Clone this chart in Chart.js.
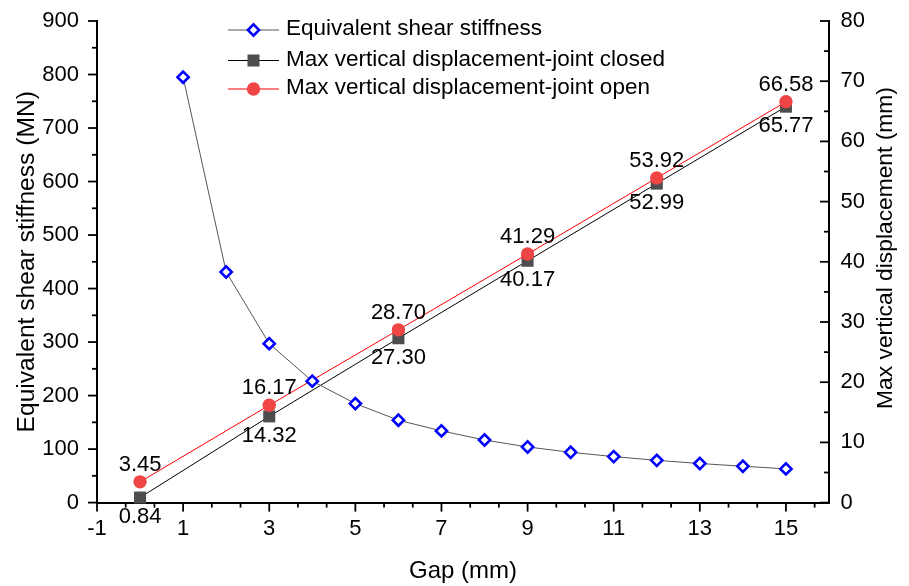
<!DOCTYPE html>
<html><head><meta charset="utf-8">
<script src="https://cdn.jsdelivr.net/npm/chart.js@4.4.1/dist/chart.umd.min.js"></script>
<style>html,body{margin:0;padding:0;background:#fff;}#wrap{width:909px;height:586px;}</style>
</head><body><div id="wrap"><canvas id="c" width="909" height="586"></canvas></div>
<script>
// ---- data ----
const gaps = [1,2,3,4,5,6,7,8,9,10,11,12,13,14,15];
const stiffness = [795,431,297,227,185,154,134,117,104,94,86,79,73,68,63];
const dispGaps = [0,3,6,9,12,15];
const dispClosed = [0.84,14.32,27.30,40.17,52.99,65.77];
const dispOpen = [3.45,16.17,28.70,41.29,53.92,66.58];
const xTicks = [-1,1,3,5,7,9,11,13,15];
const yLeftTicks = [0,100,200,300,400,500,600,700,800,900];
const yRightTicks = [0,10,20,30,40,50,60,70,80];
const seriesNames = ['Equivalent shear stiffness','Max vertical displacement-joint closed','Max vertical displacement-joint open'];
const xTitle = 'Gap (mm)';
const yLeftTitle = 'Equivalent shear stiffness (MN)';
const yRightTitle = 'Max vertical displacement (mm)';

const FONT = "'Liberation Sans', Arial, sans-serif";
const BLUE = '#0000ff', RED = '#ef4545', GRAY = '#4d4d4d';

function drawMarker(ctx, kind, x, y) {
  ctx.save();
  if (kind === 'diamond') {
    const r = 5.6;
    ctx.beginPath();
    ctx.moveTo(x, y - r); ctx.lineTo(x + r, y); ctx.lineTo(x, y + r); ctx.lineTo(x - r, y); ctx.closePath();
    ctx.fillStyle = '#fff'; ctx.fill();
    ctx.lineWidth = 2.6; ctx.strokeStyle = BLUE; ctx.stroke();
  } else if (kind === 'square') {
    ctx.fillStyle = GRAY; ctx.fillRect(x - 6, y - 6, 12, 12);
  } else {
    ctx.beginPath(); ctx.arc(x, y, 6.7, 0, Math.PI * 2); ctx.fillStyle = RED; ctx.fill();
  }
  ctx.restore();
}

const decorPlugin = {
  id: 'decor',
  afterDraw(chart) {
    const ctx = chart.ctx;
    const xs = chart.scales.x, yl = chart.scales.y, yr = chart.scales.y2;
    const ca = chart.chartArea;
    ctx.save();
    ctx.strokeStyle = '#000'; ctx.lineWidth = 1.8;
    const line = (x1, y1, x2, y2) => { ctx.beginPath(); ctx.moveTo(x1, y1); ctx.lineTo(x2, y2); ctx.stroke(); };
    // x ticks
    const b = ca.bottom;
    xTicks.forEach((v, i) => {
      const px = xs.getPixelForValue(v);
      line(px, b, px, b + 9);
      [2/3, 4/3].forEach(o => { const m = v + o; if (m < xs.max) { const p = xs.getPixelForValue(m); line(p, b, p, b + 5); } });
    });
    // left y ticks (outward)
    yLeftTicks.forEach(v => {
      const py = yl.getPixelForValue(v);
      line(ca.left, py, ca.left - 9, py);
      const m = v + 50; if (m < yl.max) { const p = yl.getPixelForValue(m); line(ca.left, p, ca.left - 5, p); }
    });
    // right y ticks (inward)
    yRightTicks.forEach(v => {
      const py = yr.getPixelForValue(v);
      line(ca.right, py, ca.right - 9, py);
      const m = v + 5; if (m < yr.max) { const p = yr.getPixelForValue(m); line(ca.right, p, ca.right - 5, p); }
    });
    // data labels
    ctx.fillStyle = '#000';
    ctx.font = '22px ' + FONT;
    ctx.textAlign = 'center'; ctx.textBaseline = 'middle';
    const openMeta = chart.getDatasetMeta(1), closedMeta = chart.getDatasetMeta(2);
    openMeta.data.forEach((el, i) => ctx.fillText(dispOpen[i].toFixed(2), el.x, el.y - 17));
    closedMeta.data.forEach((el, i) => ctx.fillText(dispClosed[i].toFixed(2), el.x, el.y + 19.5));
    // right axis title
    ctx.save();
    ctx.font = '22.8px ' + FONT;
    ctx.translate(886, 248);
    ctx.rotate(-Math.PI / 2);
    ctx.fillText(yRightTitle, 0, 0);
    ctx.restore();
    // legend
    const rows = [
      { y: 30, color: '#555', kind: 'diamond', text: seriesNames[0] },
      { y: 60.5, color: '#000', kind: 'square', text: seriesNames[1] },
      { y: 89, color: '#ff0000', kind: 'circle', text: seriesNames[2] }
    ];
    rows.forEach(r => {
      ctx.strokeStyle = r.color; ctx.lineWidth = 1;
      line(228, r.y, 279, r.y);
      drawMarker(ctx, r.kind, 253.5, r.y);
      ctx.fillStyle = '#000'; ctx.font = '22.5px ' + FONT;
      ctx.textAlign = 'left'; ctx.textBaseline = 'middle';
      ctx.fillText(r.text, 286, r.y - 1);
    });
    ctx.restore();
  }
};

function zeroPad(s) { s.paddingTop = 0; s.paddingBottom = 0; s.paddingLeft = 0; s.paddingRight = 0; }

new Chart(document.getElementById('c'), {
  type: 'line',
  data: {
    datasets: [
      {
        label: seriesNames[0],
        data: gaps.map((g, i) => ({ x: g, y: stiffness[i] })),
        yAxisID: 'y', borderColor: '#555', borderWidth: 1,
        pointStyle: 'rectRot', pointRadius: 5.6, pointBorderWidth: 2.6,
        pointBorderColor: BLUE, pointBackgroundColor: '#fff', tension: 0, clip: false
      },
      {
        label: seriesNames[2],
        data: dispGaps.map((g, i) => ({ x: g, y: dispOpen[i] })),
        yAxisID: 'y2', borderColor: '#ff0000', borderWidth: 1,
        pointStyle: 'circle', pointRadius: 6.7, pointBorderWidth: 0,
        pointBackgroundColor: RED, pointBorderColor: RED, tension: 0, clip: false
      },
      {
        label: seriesNames[1],
        data: dispGaps.map((g, i) => ({ x: g, y: dispClosed[i] })),
        yAxisID: 'y2', borderColor: '#000', borderWidth: 1,
        pointStyle: 'rect', pointRadius: 8.5, pointBorderWidth: 0,
        pointBackgroundColor: GRAY, pointBorderColor: GRAY, tension: 0, clip: false
      }
    ]
  },
  options: {
    responsive: false, animation: false, devicePixelRatio: 1,
    layout: { padding: { top: 21, left: 0, right: 0, bottom: 0 } },
    plugins: { legend: { display: false }, tooltip: { enabled: false } },
    scales: {
      x: {
        type: 'linear', position: 'bottom', min: -1, max: 16,
        afterBuildTicks: s => { s.ticks = xTicks.map(v => ({ value: v })); },
        afterFit: s => { s.height = 83.4; zeroPad(s); },
        grid: { display: false, drawTicks: false },
        border: { display: true, color: '#000', width: 2 },
        ticks: { color: '#000', font: { family: FONT, size: 22 }, padding: 13, autoSkip: false, maxRotation: 0 },
        title: { display: true, text: xTitle, color: '#000', font: { family: FONT, size: 24 }, padding: { top: 0, bottom: 0 } }
      },
      y: {
        type: 'linear', position: 'left', min: 0, max: 900,
        afterBuildTicks: s => { s.ticks = yLeftTicks.map(v => ({ value: v })); },
        afterFit: s => { s.width = 97; zeroPad(s); },
        grid: { display: false, drawTicks: false },
        border: { display: true, color: '#000', width: 2 },
        ticks: { color: '#000', font: { family: FONT, size: 22 }, padding: 18 },
        title: { display: true, text: yLeftTitle, color: '#000', font: { family: FONT, size: 24.6 }, padding: { top: 12, bottom: 0 } }
      },
      y2: {
        type: 'linear', position: 'right', min: 0, max: 80,
        afterBuildTicks: s => { s.ticks = yRightTicks.map(v => ({ value: v })); },
        afterFit: s => { s.width = 80; zeroPad(s); },
        grid: { display: false, drawTicks: false },
        border: { display: true, color: '#000', width: 2 },
        ticks: { color: '#000', font: { family: FONT, size: 22 }, padding: 11.5 }
      }
    }
  },
  plugins: [decorPlugin]
});
</script>
</body></html>
